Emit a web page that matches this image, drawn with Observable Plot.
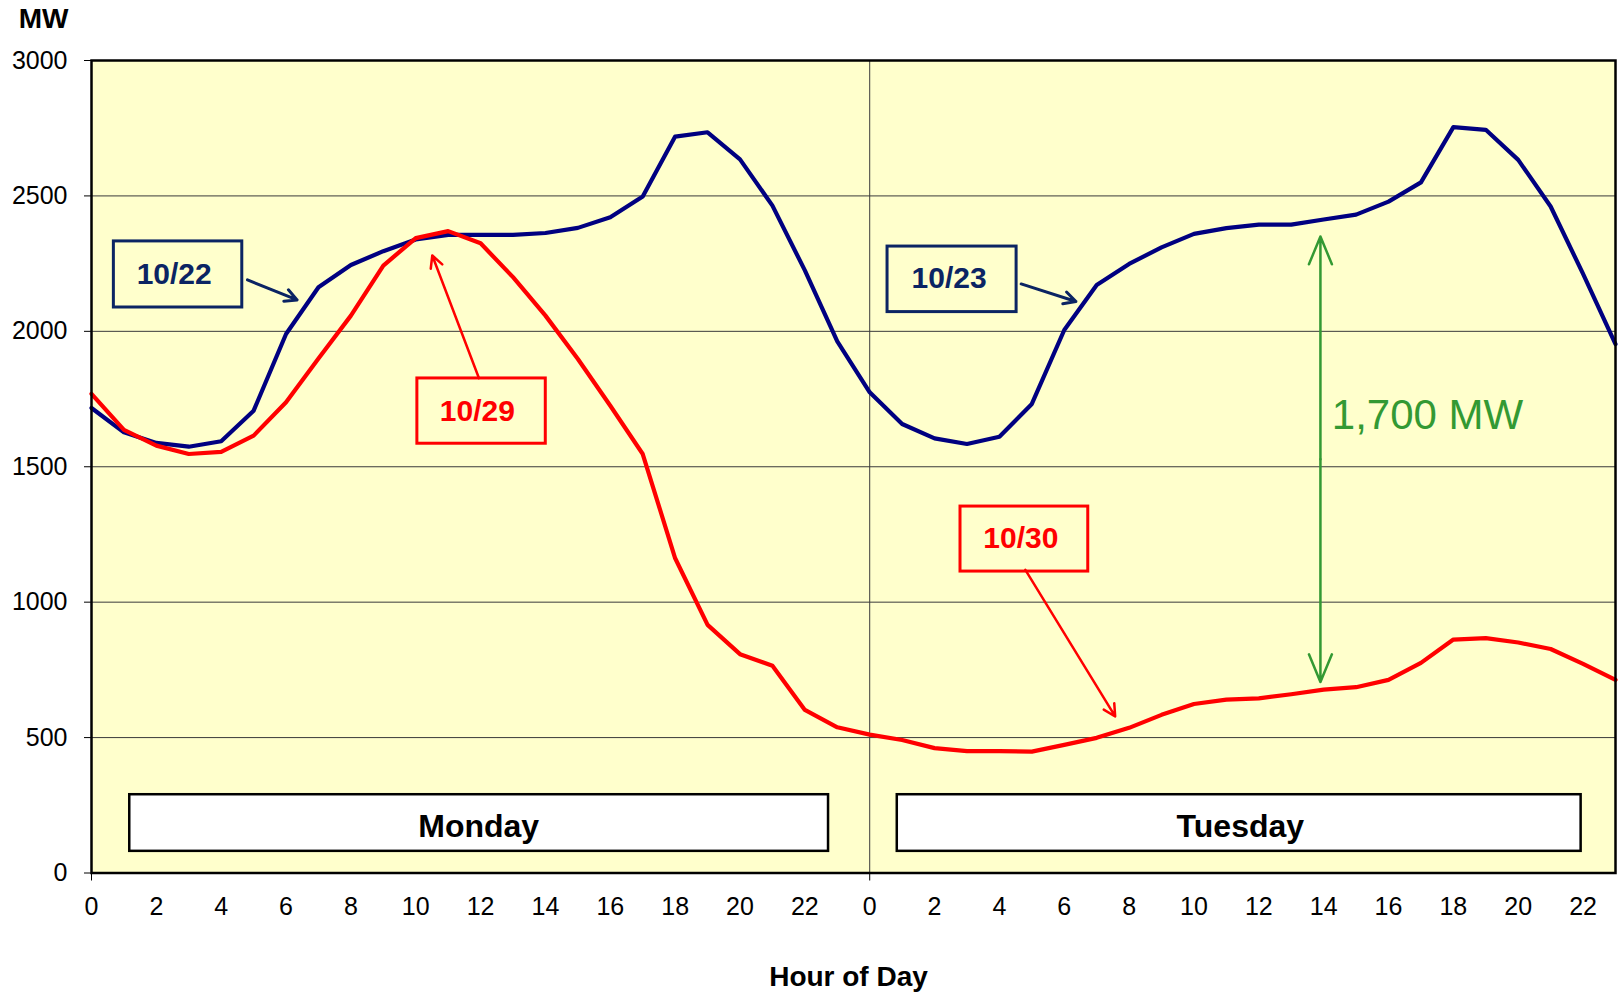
<!DOCTYPE html>
<html><head><meta charset="utf-8">
<script src="https://cdn.jsdelivr.net/npm/d3@7"></script>
<script src="https://cdn.jsdelivr.net/npm/@observablehq/plot@0.6"></script>
<style>body{margin:0;background:#fff;} svg{display:block}</style>
</head><body><div id="chart"></div>
<script>
// Hour index across two days (Mon 0..23, Tue 0..23)
const hourIndex = d3.range(48);
const xTickIndex = d3.range(0, 48, 2);
const yTicks = [0, 500, 1000, 1500, 2000, 2500, 3000];

// Load (MW) — 10/22 (Mon) + 10/23 (Tue)
const loadBefore = [1717,1627,1588,1574,1594,1707,1990,2163,2245,2296,2339,2356,2356,2356,2363,2382,2421,2498,2719,2735,2635,2464,2225,1963,
                    1775,1658,1605,1584,1611,1732,2005,2171,2249,2310,2360,2381,2394,2394,2413,2431,2479,2550,2754,2744,2633,2461,2212,1953];
// Load (MW) — 10/29 (Mon) + 10/30 (Tue)
const loadAfter = [1769,1636,1578,1547,1555,1615,1738,1900,2058,2243,2344,2370,2325,2200,2058,1898,1725,1547,1162,916,808,765,602,538,
                   511,491,461,450,450,448,473,499,536,584,624,640,645,660,677,686,713,776,862,867,851,827,772,713];

// Day labels
const dayNames = ["Monday", "Tuesday"];
const dayX1 = [1.18, 24.85];
const dayX2 = [22.73, 45.94];
const dayY1 = [80, 80];
const dayY2 = [289, 289];
const dayTextX = [11.94, 35.43];
const dayTextY = [170, 170];

// Date callouts
const calloutNames = ["10/22", "10/23", "10/29", "10/30"];
const calloutColors = ["#0B2463", "#0B2463", "#FF0000", "#FF0000"];
const calloutX1 = [0.69, 24.55, 10.05, 26.8];
const calloutX2 = [4.65, 28.53, 14.01, 30.74];
const calloutY1 = [2088, 2071, 1585, 1113];
const calloutY2 = [2332, 2313, 1826, 1353];
const calloutTextX = [2.55, 26.45, 11.9, 28.66];
const calloutTextY = [2212, 2194, 1704, 1234];
const arrowFromX = [4.81, 28.67, 11.95, 28.8];
const arrowFromY = [2190, 2175, 1827, 1119];
const arrowToX = [6.34, 30.36, 10.51, 31.57];
const arrowToY = [2116, 2110, 2280, 578];
const arrowWidths = [3, 3, 2.5, 2.5];

// Gap annotation
const gapX = 37.9;
const gapTop = 2350;
const gapBottom = 705;
const gapLabel = "1,700 MW";
const gapLabelX = 38.25;
const gapLabelY = 1689;

const seriesA = hourIndex.map((h, i) => ({h, v: loadBefore[i]}));
const seriesB = hourIndex.map((h, i) => ({h, v: loadAfter[i]}));
const days = dayNames.map((name, i) => ({name, x1: dayX1[i], x2: dayX2[i], y1: dayY1[i], y2: dayY2[i], tx: dayTextX[i], ty: dayTextY[i]}));
const callouts = calloutNames.map((name, i) => ({
  name, color: calloutColors[i], x1: calloutX1[i], x2: calloutX2[i], y1: calloutY1[i], y2: calloutY2[i],
  tx: calloutTextX[i], ty: calloutTextY[i], ax1: arrowFromX[i], ay1: arrowFromY[i], ax2: arrowToX[i], ay2: arrowToY[i], sw: arrowWidths[i]
}));
const gapMid = (gapTop + gapBottom) / 2;
const gapArrows = [{x: gapX, y1: gapMid, y2: gapTop}, {x: gapX, y1: gapMid, y2: gapBottom}];

const FONT = "'Liberation Sans', Arial, Helvetica, sans-serif";
const navyLine = "#000080";
const green = "#339933";

const chart = Plot.plot({
  width: 1623,
  height: 994,
  marginLeft: 91,
  marginRight: 8,
  marginTop: 60,
  marginBottom: 121.5,
  style: {fontFamily: FONT, fontSize: "25px", color: "black", background: "white", overflow: "visible"},
  x: {domain: [0, 47]},
  y: {domain: [0, 3000]},
  marks: [
    Plot.frame({fill: "#FFFFCC", stroke: null}),
    Plot.ruleY(yTicks, {stroke: "#3a3a3a", strokeWidth: 1}),
    Plot.ruleX([24], {stroke: "#3a3a3a", strokeWidth: 1}),
    Plot.rect(days, {x1: "x1", x2: "x2", y1: "y1", y2: "y2", fill: "white", stroke: "black", strokeWidth: 2.5}),
    Plot.text(days, {x: "tx", y: "ty", text: "name", fontWeight: "bold", fontSize: 32, fill: "black"}),
    Plot.line(seriesA, {x: "h", y: "v", stroke: navyLine, strokeWidth: 4.2}),
    Plot.line(seriesB, {x: "h", y: "v", stroke: "#FF0000", strokeWidth: 4.2}),
    Plot.rect(callouts, {x1: "x1", x2: "x2", y1: "y1", y2: "y2", fill: "none", stroke: d => d.color, strokeWidth: 3}),
    Plot.text(callouts, {x: "tx", y: "ty", text: "name", fill: d => d.color, fontWeight: "bold", fontSize: 30}),
    Plot.arrow(callouts, {x1: "ax1", y1: "ay1", x2: "ax2", y2: "ay2", stroke: d => d.color, strokeWidth: d => d.sw, headLength: 20, headAngle: 55}),
    Plot.arrow(gapArrows, {x1: "x", x2: "x", y1: "y1", y2: "y2", stroke: green, strokeWidth: 2.5, headLength: 18, headAngle: 45}),
    Plot.text([gapLabel], {x: gapLabelX, y: gapLabelY, text: d => d, fill: green, fontSize: 42, textAnchor: "start"}),
    Plot.frame({stroke: "black", strokeWidth: 2.5}),
    Plot.axisY({ticks: yTicks, tickSize: 7, tickPadding: 17, tickFormat: d => String(d), label: null, fontSize: 25, stroke: "black"}),
    Plot.axisX({ticks: [0, 24], tickSize: 8, tickFormat: () => "", label: null, stroke: "black"}),
    Plot.axisX({ticks: xTickIndex, tickSize: 0, tickPadding: 24, tickFormat: d => String(d % 24), label: null, fontSize: 25}),
    Plot.text(["MW"], {frameAnchor: "top-left", dx: -48, dy: -41, text: d => d, textAnchor: "middle", fontWeight: "bold", fontSize: 28, lineAnchor: "middle"}),
    Plot.text(["Hour of Day"], {frameAnchor: "bottom", dx: -5, dy: 104, text: d => d, textAnchor: "middle", fontWeight: "bold", fontSize: 28, lineAnchor: "middle"})
  ]
});
document.getElementById("chart").appendChild(chart);
</script>
</body></html>
